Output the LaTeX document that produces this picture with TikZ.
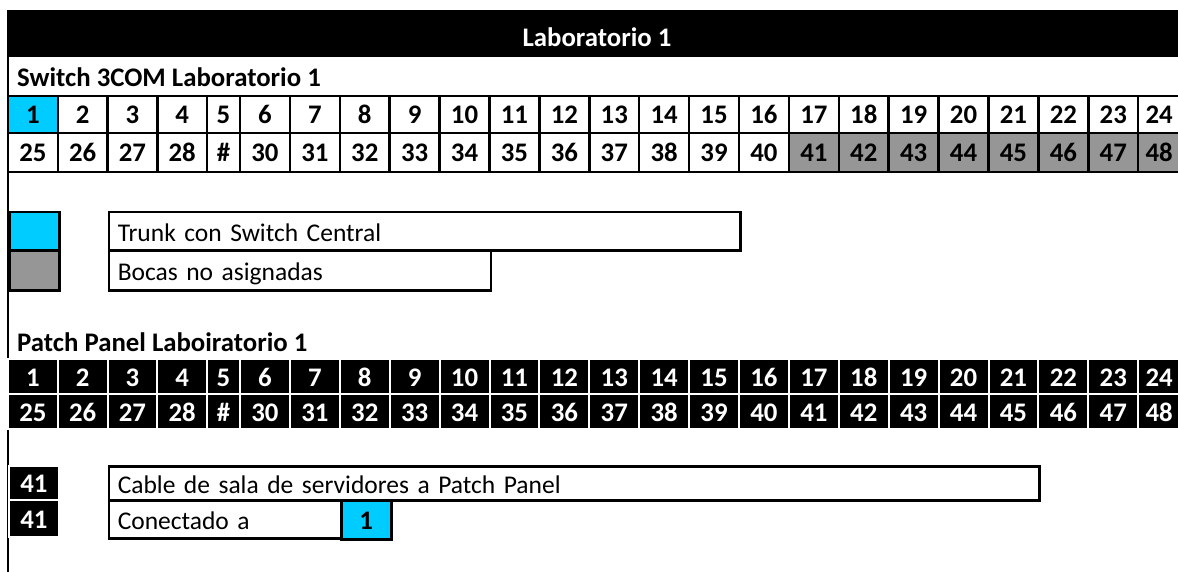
\documentclass[tikz,border=0pt]{standalone}
\usepackage{fontspec}
\setmainfont{Carlito}
\definecolor{skyb}{RGB}{0,204,255}
\definecolor{grayc}{RGB}{150,150,150}
\newcommand\cfs{\fontsize{26.8}{31}\selectfont}
\newcommand\rfs{\fontsize{25.5}{30}\selectfont}
\begin{document}
\begin{tikzpicture}[x=1pt,y=-1pt,
  every node/.style={font=\rfs},
  cell/.style={draw=black, line width=2.5pt, inner sep=0pt, font=\cfs\bfseries, text height=19pt, text depth=0pt},
  pcell/.style={fill=black, draw=white, line width=2pt, inner sep=0pt, text=white, font=\cfs\bfseries, text height=19pt, text depth=0pt},
  tbox/.style={draw=black, line width=2.5pt, inner xsep=9pt, inner ysep=0pt, align=left, anchor=north west, text height=20pt, text depth=0pt},
  heading/.style={anchor=base west, inner sep=0pt, font=\cfs\bfseries}]
\useasboundingbox (0,0) rectangle (1178,572);
\clip (0,0) rectangle (1178,572);
% left border
\coordinate (lt) at (8,10);
\coordinate (lb) at (8,572);
\draw[line width=2.5pt] (lt) -- (lb);
% title bar
\node[fill=black, minimum width=1180pt, minimum height=47pt, inner sep=0pt, anchor=north west] (title) at (8,10) {};
\node[anchor=base, inner sep=0pt, text=white, font=\cfs\bfseries] (titletext) at (597,47) {Laboratorio 1};
% headings
\node[heading] (swh) at (17,87) {Switch 3COM Laboratorio 1};
\node[heading] (pph) at (17,351) {Patch Panel Laboiratorio 1};
% cells
\foreach \i/\l/\r in {1/8/57.75, 2/57.75/107.5, 3/107.5/157.25, 4/157.25/207, 5/207/240,
  6/240/289.9, 7/289.9/339.8, 8/339.8/389.7, 9/389.7/439.6, 10/439.6/489.5, 11/489.5/539.4,
  12/539.4/589.3, 13/589.3/639.2, 14/639.2/689.1, 15/689.1/739, 16/739/788.9, 17/788.9/838.8,
  18/838.8/888.7, 19/888.7/938.6, 20/938.6/988.5, 21/988.5/1038.4, 22/1038.4/1088.3,
  23/1088.3/1138.2, 24/1138.2/1180}{
  \pgfmathsetmacro\w{\r-\l}
  \pgfmathsetmacro\c{(\l+\r)/2}
  \pgfmathtruncatemacro\j{\i+24}
  \ifnum\i=5 \def\lab{\#}\else\edef\lab{\j}\fi
  \ifnum\i=1 \def\fa{skyb}\else\def\fa{white}\fi
  \ifnum\i>16 \def\fb{grayc}\else\def\fb{white}\fi
  \node[cell, fill=\fa, minimum width=\w pt, minimum height=37pt] (s1-\i) at (\c,114.5) {\i};
  \node[cell, fill=\fb, minimum width=\w pt, minimum height=39pt] (s2-\i) at (\c,152.5) {\lab};
  \node[pcell, minimum width=\w pt, minimum height=35pt] (p1-\i) at (\c,376.5) {\i};
  \node[pcell, minimum width=\w pt, minimum height=35pt] (p2-\i) at (\c,411.5) {\lab};
}
% legend
\node[cell, fill=skyb, minimum width=50pt, minimum height=38pt, anchor=north west] (lgb) at (8,211) {};
\node[cell, fill=grayc, minimum width=50pt, minimum height=40pt, anchor=north west] (lgg) at (8,249) {};
\node[tbox, text width=613.5pt, minimum height=38pt] (trunk) at (107.5,211) {Trunk con Switch Central};
\node[tbox, text width=364pt, minimum height=40pt] (bocas) at (107.5,249) {Bocas no asignadas};
% patch legend
\node[pcell, minimum width=49.75pt, minimum height=34pt, anchor=north west] (c41a) at (8,465) {41};
\node[pcell, minimum width=49.75pt, minimum height=37pt, anchor=north west] (c41b) at (8,499) {41};
\node[tbox, text width=912.9pt, minimum height=34pt] (cable) at (107.5,465) {Cable de sala de servidores a Patch Panel};
\node[tbox, text width=214.3pt, minimum height=38pt] (conec) at (107.5,499) {Conectado a};
\node[cell, fill=skyb, line width=3pt, minimum width=49.9pt, minimum height=39pt, anchor=north west] (conb) at (339.8,499) {1};
\end{tikzpicture}
\end{document}
